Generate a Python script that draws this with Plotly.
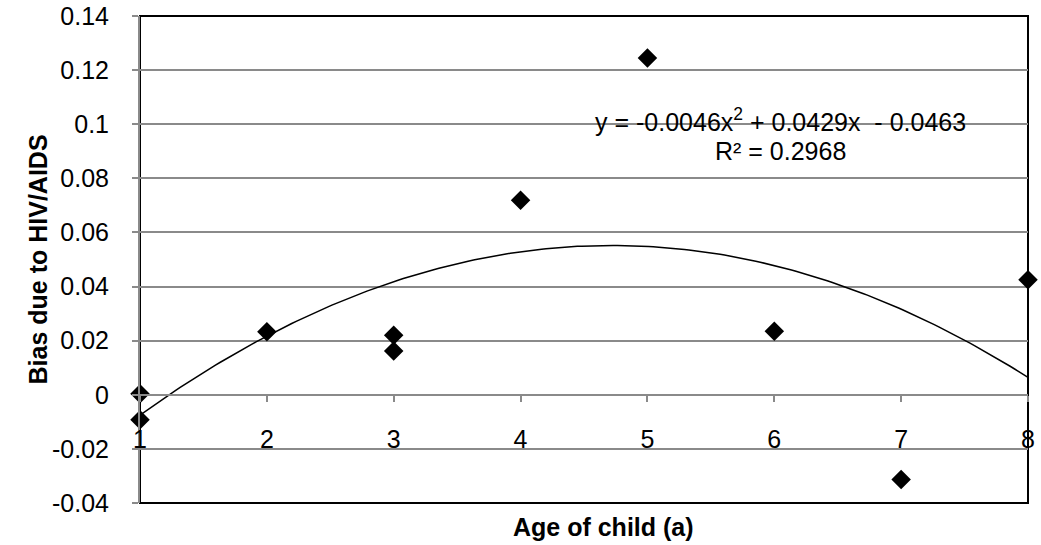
import numpy as np
import plotly.graph_objects as go

# ---- data ----
age = [1, 1, 2, 3, 3, 4, 5, 6, 7, 8]
bias = [0.0004, -0.0092, 0.0233, 0.0220, 0.0162, 0.0719, 0.1245, 0.0235, -0.0313, 0.0425]
y_ticks = [-0.04, -0.02, 0, 0.02, 0.04, 0.06, 0.08, 0.1, 0.12, 0.14]
y_tick_labels = ["-0.04", "-0.02", "0", "0.02", "0.04", "0.06", "0.08", "0.1", "0.12", "0.14"]
x_ticks = [1, 2, 3, 4, 5, 6, 7, 8]
eq_line1 = "y = -0.0046x<sup>2</sup> + 0.0429x  - 0.0463"
eq_line2 = "R² = 0.2968"
x_title = "Age of child (a)"
y_title = "Bias due to HIV/AIDS"

# polynomial (order 2) trendline fitted to the data
coef = np.polyfit(age, bias, 2)
xs = np.linspace(min(x_ticks), max(x_ticks), 200)
ys = np.polyval(coef, xs)

FONT = "Liberation Sans, Arial, sans-serif"
GRID = "#8a8a8a"

fig = go.Figure()
fig.add_trace(go.Scatter(x=xs, y=ys, mode="lines",
                         line=dict(color="black", width=1.5),
                         hoverinfo="skip", showlegend=False))
fig.add_trace(go.Scatter(x=age, y=bias, mode="markers",
                         marker=dict(symbol="diamond", size=15, color="black",
                                     line=dict(width=0)),
                         cliponaxis=False, showlegend=False))

ymin, ymax = y_ticks[0], y_ticks[-1]
fig.update_layout(
    width=1041, height=545,
    margin=dict(l=140, r=13, t=16, b=42, autoexpand=False),
    paper_bgcolor="white", plot_bgcolor="white",
    font=dict(family=FONT, size=25, color="black"),
    showlegend=False,
    xaxis=dict(range=[x_ticks[0], x_ticks[-1]], tickvals=x_ticks,
               anchor="free", position=(0 - ymin) / (ymax - ymin),
               automargin=False,
               showgrid=False, zeroline=False,
               showline=True, linecolor=GRID, linewidth=1.5,
               ticks="outside", ticklen=6, tickcolor=GRID, tickwidth=1.5,
               ticklabelstandoff=16,
               tickfont=dict(family=FONT, size=25, color="black")),
    yaxis=dict(range=[ymin, ymax], tickvals=y_ticks, ticktext=y_tick_labels,
               automargin=False,
               showgrid=True, gridcolor=GRID, gridwidth=1.5,
               zeroline=False,
               showline=True, linecolor=GRID, linewidth=2,
               ticks="outside", ticklen=6, tickcolor=GRID, tickwidth=1.5,
               ticklabelstandoff=18,
               tickfont=dict(family=FONT, size=25, color="black")),
    shapes=[dict(type="rect", xref="paper", yref="paper", x0=0, x1=1, y0=0, y1=1,
                 line=dict(color="black", width=2), layer="between")],
    annotations=[
        dict(text=eq_line1, xref="paper", yref="paper", x=0.7218, y=0.786,
             xanchor="center", yanchor="middle", showarrow=False,
             font=dict(family=FONT, size=25, color="black")),
        dict(text=eq_line2, xref="paper", yref="paper", x=0.7218, y=0.7234,
             xanchor="center", yanchor="middle", showarrow=False,
             font=dict(family=FONT, size=25, color="black")),
        dict(text="<b>" + x_title + "</b>", xref="paper", yref="paper",
             x=0.5214, y=-0.049, xanchor="center", yanchor="middle", showarrow=False,
             font=dict(family=FONT, size=25, color="black")),
        dict(text="<b>" + y_title + "</b>", xref="paper", yref="paper",
             x=-0.1149, y=0.5, xanchor="center", yanchor="middle", showarrow=False,
             textangle=-90, font=dict(family=FONT, size=25, color="black")),
    ],
)

fig.write_html("out.html", config={"displayModeBar": False})
